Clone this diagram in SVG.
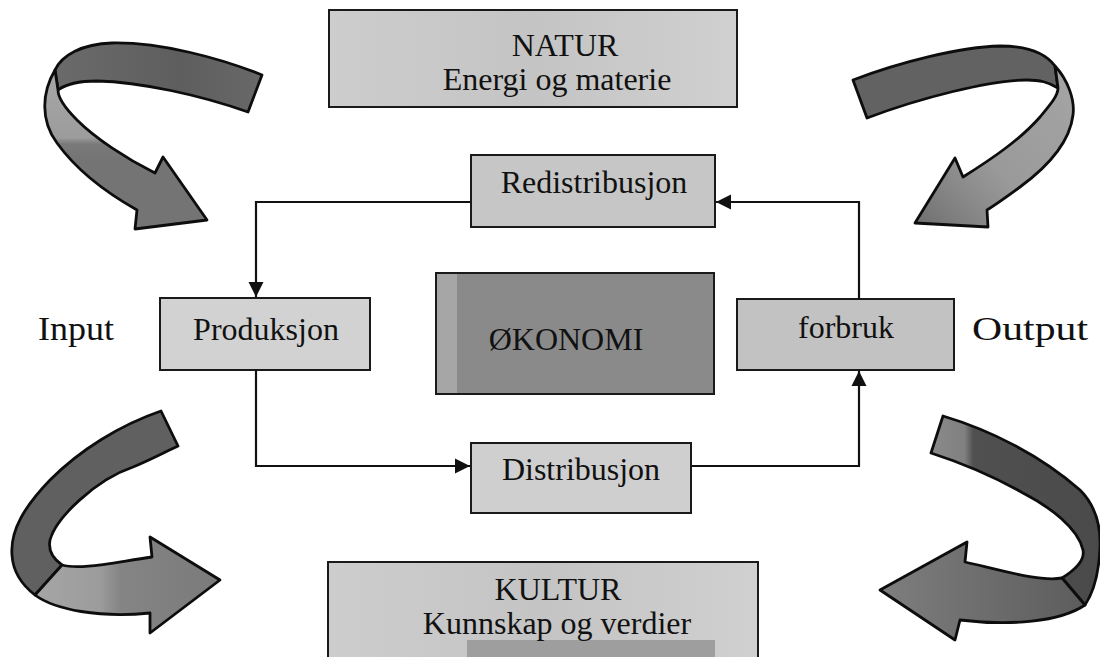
<svg xmlns="http://www.w3.org/2000/svg" width="1100" height="657" viewBox="0 0 1100 657">
  <style>
    .box { stroke: #1a1a1a; stroke-width: 2; }
    .lbl { font-family: "Liberation Serif", "Times New Roman", serif; font-size: 32px; fill: #111; text-anchor: middle; }
    .side { font-family: "Liberation Serif", "Times New Roman", serif; font-size: 34px; fill: #111; }
    .wire { fill: none; stroke: #111; stroke-width: 2.2; }
    .ribbon { stroke: #0d0d0d; stroke-width: 2.8; stroke-linejoin: round; }
  </style>
  <defs>
    <marker id="tri" viewBox="0 0 10 10" refX="10" refY="5" markerWidth="7" markerHeight="7" markerUnits="strokeWidth" orient="auto">
      <path d="M0,0 L10,5 L0,10 Z" fill="#111"/>
    </marker>
    <linearGradient id="natFill" x1="0" x2="1" y1="0" y2="0">
      <stop offset="0" stop-color="#cdcdcd"/>
      <stop offset="0.5" stop-color="#c4c4c4"/>
      <stop offset="1" stop-color="#d0d0d0"/>
    </linearGradient>
    <linearGradient id="tlUpper" gradientUnits="userSpaceOnUse" x1="60" y1="0" x2="260" y2="0">
      <stop offset="0" stop-color="#6a6a6a"/>
      <stop offset="0.6" stop-color="#5e5e5e"/>
      <stop offset="1" stop-color="#686868"/>
    </linearGradient>
    <linearGradient id="tlLower" gradientUnits="userSpaceOnUse" x1="0" y1="80" x2="0" y2="160">
      <stop offset="0" stop-color="#a6a6a6"/>
      <stop offset="0.72" stop-color="#9c9c9c"/>
      <stop offset="0.8" stop-color="#7a7a7a"/>
      <stop offset="1" stop-color="#747474"/>
    </linearGradient>
    <linearGradient id="trLower" gradientUnits="userSpaceOnUse" x1="1070" y1="80" x2="920" y2="220">
      <stop offset="0" stop-color="#a4a4a4"/>
      <stop offset="0.55" stop-color="#9a9a9a"/>
      <stop offset="0.75" stop-color="#8a8a8a"/>
      <stop offset="1" stop-color="#727272"/>
    </linearGradient>
    <linearGradient id="blLower" gradientUnits="userSpaceOnUse" x1="20" y1="0" x2="220" y2="0">
      <stop offset="0" stop-color="#a8a8a8"/>
      <stop offset="0.4" stop-color="#9c9c9c"/>
      <stop offset="0.5" stop-color="#858585"/>
      <stop offset="1" stop-color="#7a7a7a"/>
    </linearGradient>
    <linearGradient id="brUpper" gradientUnits="userSpaceOnUse" x1="931" y1="0" x2="1100" y2="0">
      <stop offset="0" stop-color="#8a8a8a"/>
      <stop offset="0.2" stop-color="#808080"/>
      <stop offset="0.25" stop-color="#505050"/>
      <stop offset="1" stop-color="#4a4a4a"/>
    </linearGradient>
    <linearGradient id="brLower" gradientUnits="userSpaceOnUse" x1="1100" y1="0" x2="880" y2="0">
      <stop offset="0" stop-color="#5a5a5a"/>
      <stop offset="0.5" stop-color="#6c6c6c"/>
      <stop offset="1" stop-color="#7e7e7e"/>
    </linearGradient>
  </defs>

  <!-- curved ribbon arrows in the four corners -->
  <g id="arrow-top-left">
    <path class="ribbon" fill="url(#tlUpper)" d="M262,75 C220,58 160,42 112,43 C82,44 62,55 55,70 L58,90 C66,84 80,81 97,81 C140,82 200,95 248,112 Z"/>
    <path class="ribbon" fill="url(#tlLower)" d="M55,70 C42,92 40,120 57,143 C75,168 105,192 137,210 L135,229 L207,220 L163,157 L155,173 C125,158 95,138 77,120 C65,108 58,98 58,90 Z"/>
  </g>
  <g id="arrow-top-right">
    <path class="ribbon" fill="#626262" d="M853,80 C900,62 960,47 1000,46 C1028,46 1046,54 1055,66 L1058,88 C1048,82 1040,80 1027,80 C990,80 920,98 867,118 Z"/>
    <path class="ribbon" fill="url(#trLower)" d="M1055,66 C1068,80 1075,100 1073,115 C1070,140 1050,165 1020,187 C1005,198 995,205 987,210 L988,227 L915,223 L955,158 L963,177 C990,160 1020,140 1040,117 C1050,105 1058,96 1058,88 Z"/>
  </g>
  <g id="arrow-bottom-left">
    <path class="ribbon" fill="#606060" d="M161,411 C120,425 80,450 50,480 C25,506 10,530 12,555 C13,572 22,585 35,595 L62,565 C52,558 48,550 50,540 C56,518 95,480 133,467 C150,460 165,452 178,446 Z"/>
    <path class="ribbon" fill="url(#blLower)" d="M35,595 C55,610 100,618 150,613 L150,633 L220,580 L150,537 L152,557 C110,563 80,570 62,565 Z"/>
  </g>
  <g id="arrow-bottom-right">
    <path class="ribbon" fill="url(#brUpper)" d="M943,416 C990,430 1040,455 1080,490 C1095,505 1101,525 1100,548 C1099,570 1095,590 1085,605 L1062,578 C1075,570 1085,560 1083,550 C1078,528 1050,507 1023,493 C1000,480 965,464 931,453 Z"/>
    <path class="ribbon" fill="url(#brLower)" d="M1085,605 C1060,622 1010,626 960,620 L955,640 L880,590 L967,542 L965,562 C1000,570 1040,582 1062,578 Z"/>
  </g>

  <!-- outer boxes -->
  <g id="natur">
    <rect class="box" x="329" y="10" width="408" height="97" fill="url(#natFill)"/>
    <text class="lbl" x="565" y="56">NATUR</text>
    <text class="lbl" x="557" y="90">Energi og materie</text>
  </g>
  <g id="kultur">
    <rect class="box" x="328" y="562" width="430" height="100" fill="url(#natFill)"/>
    <rect x="467" y="640" width="248" height="17" fill="#9e9e9e"/>
    <text class="lbl" x="558" y="600">KULTUR</text>
    <text class="lbl" x="557" y="634">Kunnskap og verdier</text>
  </g>

  <!-- side labels -->
  <g id="input"><text class="side" x="38" y="340" textLength="76" lengthAdjust="spacingAndGlyphs">Input</text></g>
  <g id="output"><text class="side" x="972" y="340" textLength="116" lengthAdjust="spacingAndGlyphs">Output</text></g>

  <!-- economy cycle -->
  <g id="okonomi">
    <rect class="box" x="436" y="273" width="278" height="121" fill="#8a8a8a"/>
    <rect x="437" y="274" width="20" height="119" fill="#a6a6a6"/>
    <text class="lbl" x="566" y="350" fill="#222">ØKONOMI</text>
  </g>
  <g id="redistribusjon">
    <rect class="box" x="471" y="155" width="244" height="72" fill="#c6c6c6"/>
    <text class="lbl" x="594" y="193">Redistribusjon</text>
  </g>
  <g id="produksjon">
    <rect class="box" x="160" y="298" width="210" height="72" fill="#d2d2d2"/>
    <text class="lbl" x="266" y="340">Produksjon</text>
  </g>
  <g id="forbruk">
    <rect class="box" x="737" y="299" width="217" height="71" fill="#c2c2c2"/>
    <text class="lbl" x="846" y="338">forbruk</text>
  </g>
  <g id="distribusjon">
    <rect class="box" x="471" y="443" width="220" height="70" fill="#cfcfcf"/>
    <text class="lbl" x="581" y="480">Distribusjon</text>
  </g>

  <g id="connectors">
    <path class="wire" marker-end="url(#tri)" d="M471,202 H256 V297"/>
    <path class="wire" marker-end="url(#tri)" d="M256,370 V466 H470"/>
    <path class="wire" marker-end="url(#tri)" d="M691,466 H859 V371"/>
    <path class="wire" marker-end="url(#tri)" d="M859,299 V202 H716"/>
  </g>
</svg>
